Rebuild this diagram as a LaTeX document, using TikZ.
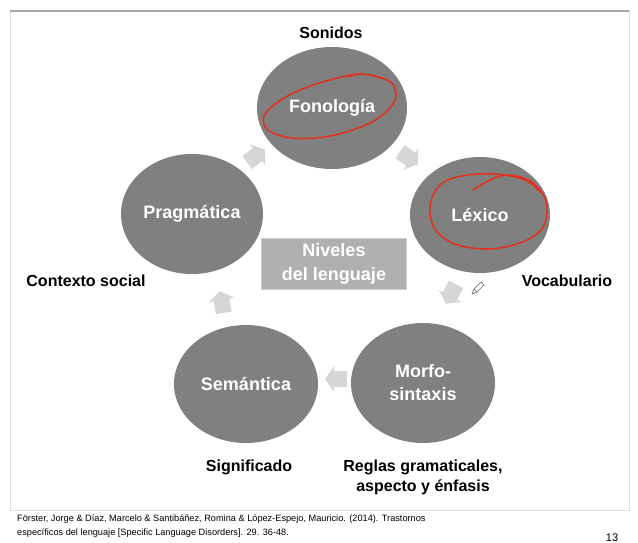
\documentclass[tikz,border=0pt]{standalone}
\usepackage{fontspec}
\setmainfont{Liberation Sans}
\usetikzlibrary{shapes.geometric}
\definecolor{levelgray}{RGB}{128,128,128}
\definecolor{boxgray}{RGB}{176,176,176}
\definecolor{boxedge}{RGB}{205,205,205}
\definecolor{arrowgray}{RGB}{214,214,214}
\definecolor{framegray}{RGB}{222,222,222}
\definecolor{inkred}{RGB}{222,52,32}

\begin{document}
\begin{tikzpicture}[x=1pt, y=-1pt,
	level/.style={ellipse, fill=levelgray, minimum width=144pt, minimum height=120pt, inner sep=0pt,
		text=white, align=center, font=\fontsize{18}{23}\selectfont\bfseries},
	tag/.style={align=center, font=\fontsize{16}{20}\selectfont\bfseries},
	redpen/.style={draw=inkred, line width=1.6pt, line cap=round, line join=round}]
		\useasboundingbox (0,0) rectangle (638,543);
		% slide frame
		\draw[framegray, line width=1pt] (10,11) rectangle (629,510);
		\draw[gray!70, line width=1.5pt] (10,11) -- (629,11);
		% levels
		\node[level, minimum width=150pt, minimum height=122pt] (fono) at (332,108) {Fonología};
		\node[level, minimum width=140pt, minimum height=116pt] (lex) at (480,215) {Léxico};
		\node[level] (morfo) at (423,383) {Morfo-\\sintaxis};
		\node[level, minimum height=118pt] (sema) at (246,384) {Semántica};
		\node[level, minimum width=142pt] (prag) at (192,214) {Pragmática};
		% centre box
		\node[fill=boxgray, draw=boxedge, minimum width=145pt, minimum height=51pt, inner sep=0pt,
			text=white, align=center, font=\fontsize{18}{24}\selectfont\bfseries] (niveles) at (334,264) {Niveles\\del lenguaje};
		% arrows of the cycle
		\foreach \x/\y/\a in {256/156/36, 409/158/-35, 451/294/-118, 336/379/180, 222/302/100}
		{
			\fill[arrowgray, shift={(\x,\y)}, rotate=\a] (-11,-8) -- (2,-8) -- (2,-13) -- (11,0) -- (2,13) -- (2,8) -- (-11,8) -- cycle;
		}
		% labels
		\node[tag] (sonidos) at (331,33) {Sonidos};
		\node[tag] (contexto) at (86,281) {Contexto social};
		\node[tag] (vocab) at (567,281) {Vocabulario};
		\node[tag] (signif) at (249,467) {Significado};
		\node[tag] (reglas) at (423,477) {Reglas gramaticales,\\aspecto y énfasis};
		% red pen marks
		\draw[redpen] plot[smooth, tension=0.6] coordinates {(384,79) (360,74) (330,80) (300,90) (278,102) (264,116) (268,130) (292,138) (330,136) (370,123) (393,104) (395,88) (385,79) (362,74) (348,77)};
		\draw[redpen] plot[smooth, tension=0.6] coordinates {(473,190) (490,180) (508,175) (530,181) (544,196) (547,212) (541,230) (520,243) (488,249) (455,244) (435,229) (430,206) (440,185) (462,176) (495,174) (525,180) (540,192)};
		% pencil cursor
		\draw[gray!80!black, line width=0.6pt, line join=round] (472,294) -- (474,289) -- (481,282) -- (484,285) -- (477,292) -- cycle;
		\draw[gray!80!black, line width=0.6pt] (474,289) -- (477,292);
		% reference and page number
		\node[anchor=west, inner sep=0pt, font=\fontsize{9.2}{11}\selectfont] (ref1) at (17,519) {Förster, Jorge \& Díaz, Marcelo \& Santibáñez, Romina \& López-Espejo, Mauricio. (2014). Trastornos};
		\node[anchor=west, inner sep=0pt, font=\fontsize{9.2}{11}\selectfont] (ref2) at (17,533) {específicos del lenguaje [Specific Language Disorders]. 29. 36-48.};
		\node[anchor=north, inner sep=0pt, font=\fontsize{11}{13}\selectfont] (page) at (612,534) {13};
	\end{tikzpicture}
\end{document}
